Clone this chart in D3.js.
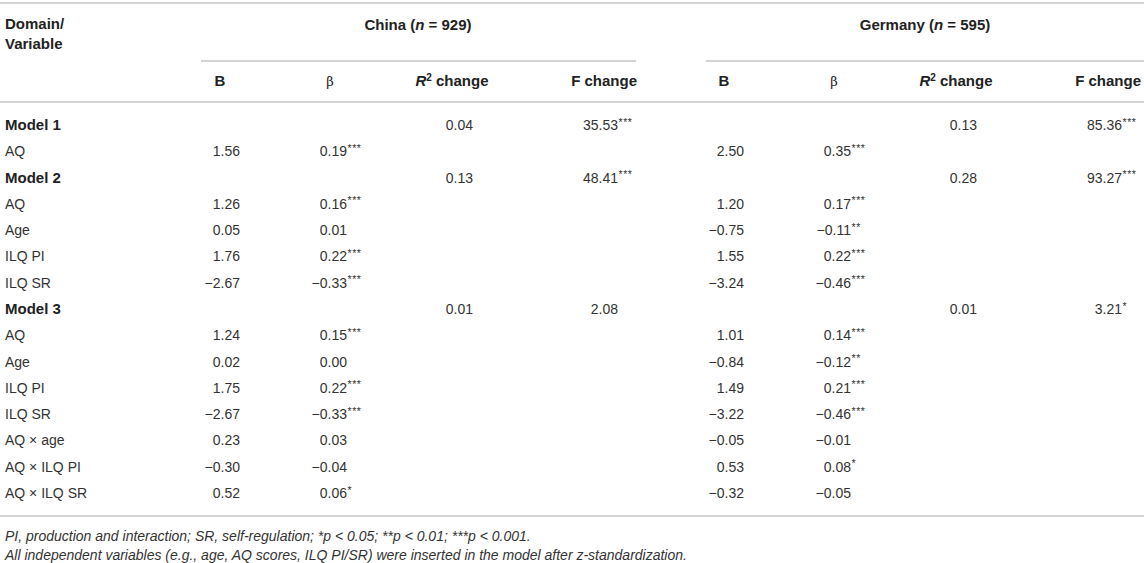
<!DOCTYPE html>
<html lang="en">
<head>
<meta charset="utf-8">
<title>Hierarchical regression table</title>
<script src="https://d3js.org/d3.v7.min.js"></script>
<style>
  body { margin: 0; background: #fff; }
  svg text { font-family: "Liberation Sans", Arial, Helvetica, sans-serif; fill: #333; font-size: 14px; }
  .bold { font-weight: bold; fill: #222; font-size: 15px; }
  .note { font-style: italic; font-size: 14px; }
</style>
</head>
<body>
<svg id="table"></svg>
<script>
const width = 1144;
const height = 563;

// row labels, "Model n" rows are shown bold
const rowLabels = ["Model 1", "AQ", "Model 2", "AQ", "Age", "ILQ PI", "ILQ SR",
  "Model 3", "AQ", "Age", "ILQ PI", "ILQ SR", "AQ × age", "AQ × ILQ PI", "AQ × ILQ SR"];

const countries = ["China", "Germany"];
const sampleSizes = [929, 595];
const columnNames = ["B", "β", "R2", "F change"];

// China
const chinaB = [null, 1.56, null, 1.26, 0.05, 1.76, -2.67, null, 1.24, 0.02, 1.75, -2.67, 0.23, -0.30, 0.52];
const chinaBeta = [null, 0.19, null, 0.16, 0.01, 0.22, -0.33, null, 0.15, 0.00, 0.22, -0.33, 0.03, -0.04, 0.06];
const chinaBetaSig = ["", "***", "", "***", "", "***", "***", "", "***", "", "***", "***", "", "", "*"];
const chinaR2 = [0.04, null, 0.13, null, null, null, null, 0.01, null, null, null, null, null, null, null];
const chinaF = [35.53, null, 48.41, null, null, null, null, 2.08, null, null, null, null, null, null, null];
const chinaFSig = ["***", "", "***", "", "", "", "", "", "", "", "", "", "", "", ""];

// Germany
const germanyB = [null, 2.50, null, 1.20, -0.75, 1.55, -3.24, null, 1.01, -0.84, 1.49, -3.22, -0.05, 0.53, -0.32];
const germanyBeta = [null, 0.35, null, 0.17, -0.11, 0.22, -0.46, null, 0.14, -0.12, 0.21, -0.46, -0.01, 0.08, -0.05];
const germanyBetaSig = ["", "***", "", "***", "**", "***", "***", "", "***", "**", "***", "***", "", "*", ""];
const germanyR2 = [0.13, null, 0.28, null, null, null, null, 0.01, null, null, null, null, null, null, null];
const germanyF = [85.36, null, 93.27, null, null, null, null, 3.21, null, null, null, null, null, null, null];
const germanyFSig = ["***", "", "***", "", "", "", "", "*", "", "", "", "", "", "", ""];

const footnotes = [
  "PI, production and interaction; SR, self-regulation; *p < 0.05; **p < 0.01; ***p < 0.001.",
  "All independent variables (e.g., age, AQ scores, ILQ PI/SR) were inserted in the model after z-standardization."
];

const svg = d3.select("#table").attr("width", width).attr("height", height);

const fmt = v => d3.format(".2f")(v).replace("-", "\u2212");

// row positions
const y = d3.scalePoint().domain(d3.range(rowLabels.length)).range([125, 493]);

// column layout for one country block: header position and value right edge
const blockOffset = 504;
const colHeadX = [220, 330, 452, 637];
const colHeadAnchor = ["middle", "middle", "middle", "end"];
const colValX = [240, 347, 473, 618];

const lineColor = "#c4c4c4";
const hline = (x1, x2, yy) => svg.append("line")
  .attr("x1", x1).attr("x2", x2).attr("y1", yy).attr("y2", yy)
  .attr("stroke", lineColor).attr("stroke-width", 1.6);

hline(0, width, 3);
hline(201, 636, 61);
hline(706, width, 61);
hline(0, width, 102);
hline(0, width, 516);

// top-left header
svg.append("text").attr("class", "bold").attr("x", 5).attr("y", 29).text("Domain/");
svg.append("text").attr("class", "bold").attr("x", 5).attr("y", 49).text("Variable");

// country headers
const blockCentre = [418, 925];
countries.forEach((c, i) => {
  const t = svg.append("text").attr("class", "bold")
    .attr("x", blockCentre[i]).attr("y", 30)
    .attr("text-anchor", "middle");
  t.append("tspan").text(c + " (");
  t.append("tspan").style("font-style", "italic").text("n");
  t.append("tspan").text(" = " + sampleSizes[i] + ")");
});

// column headers
countries.forEach((c, i) => {
  columnNames.forEach((name, j) => {
    const t = svg.append("text").attr("class", "bold")
      .attr("x", colHeadX[j] + i * blockOffset).attr("y", 86)
      .attr("text-anchor", colHeadAnchor[j]);
    if (name === "R2") {
      t.append("tspan").style("font-style", "italic").text("R");
      t.append("tspan").attr("dy", -5).style("font-size", "10px").text("2");
      t.append("tspan").attr("dy", 5).text(" change");
    } else if (name === "β") {
      t.style("font-weight", "normal").style("font-family", "'DejaVu Serif', serif").style("font-size", "13px").text(name);
    } else {
      t.text(name);
    }
  });
});

// row labels
svg.selectAll("text.row-label")
  .data(rowLabels)
  .enter()
  .append("text")
  .attr("class", d => d.startsWith("Model") ? "row-label bold" : "row-label")
  .attr("x", 5)
  .attr("y", (d, i) => y(i) + 5)
  .text(d => d);

// value cells
const blocks = [
  [chinaB, chinaBeta, chinaR2, chinaF],
  [germanyB, germanyBeta, germanyR2, germanyF]
];
const sigs = [
  [null, chinaBetaSig, null, chinaFSig],
  [null, germanyBetaSig, null, germanyFSig]
];

blocks.forEach((cols, b) => {
  cols.forEach((values, j) => {
    const x = colValX[j] + b * blockOffset;
    const cells = values.map((v, i) => ({ v, i, sig: sigs[b][j] ? sigs[b][j][i] : "" }))
      .filter(d => d.v !== null);

    const g = svg.append("g");
    g.selectAll("text.val")
      .data(cells)
      .enter()
      .append("text")
      .attr("class", "val")
      .attr("x", x)
      .attr("y", d => y(d.i) + 5)
      .attr("text-anchor", "end")
      .text(d => fmt(d.v));

    g.selectAll("text.sig")
      .data(cells.filter(d => d.sig))
      .enter()
      .append("text")
      .attr("class", "sig")
      .attr("x", x + 0.5)
      .attr("y", d => y(d.i) + 0.5)
      .style("font-size", "10.5px")
      .style("letter-spacing", "0.6px")
      .text(d => d.sig);
  });
});

// footnotes
svg.selectAll("text.note")
  .data(footnotes)
  .enter()
  .append("text")
  .attr("class", "note")
  .attr("x", 5)
  .attr("y", (d, i) => 541 + i * 19)
  .text(d => d);
</script>
</body>
</html>
